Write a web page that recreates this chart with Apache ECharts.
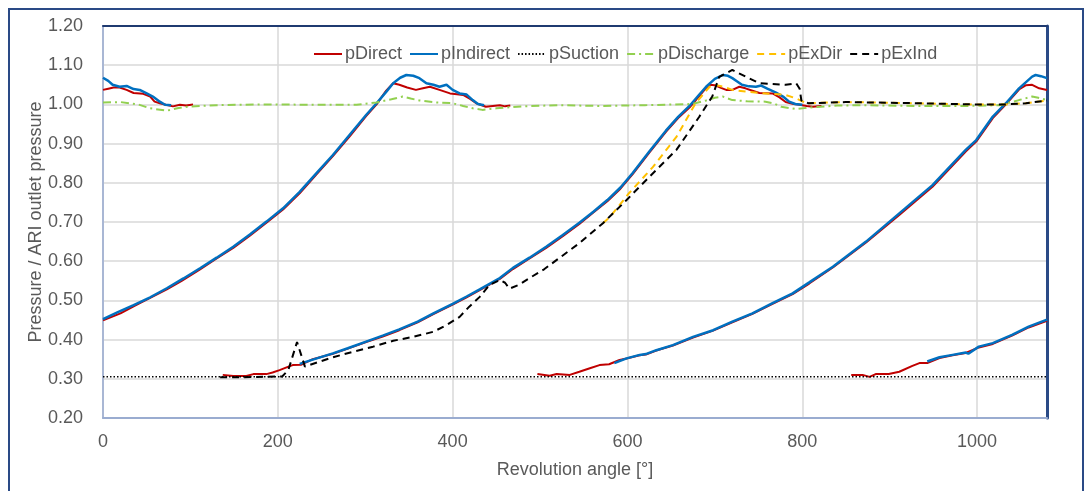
<!DOCTYPE html>
<html>
<head>
<meta charset="utf-8">
<script src="https://cdn.jsdelivr.net/npm/echarts@6/dist/echarts.min.js"></script>
<style>
html,body{margin:0;padding:0;background:#fff;}
#chart{width:1091px;height:491px;}
</style>
</head>
<body>
<div id="chart"></div>
<script>
// ---- data (angle in degrees, pressure ratio) ----
const seriesNames = ['pDirect', 'pIndirect', 'pSuction', 'pDischarge', 'pExDir', 'pExInd'];

const pDirect1 = [[0,1.037],[6,1.040],[12,1.043],[19,1.043],[27,1.037],[35,1.029],[46,1.027],[54,1.020],[59,1.007],[65,1.003],[72,0.999],[80,0.995],[88,0.999],[95,0.997],[103,1.000]];
const pDirect2 = [[0,0.449],[20,0.467],[35,0.485],[50,0.502],[73,0.528],[90,0.550],[111,0.579],[130,0.607],[149,0.634],[168,0.665],[187,0.698],[206,0.732],[225,0.773],[244,0.821],[263,0.868],[282,0.918],[301,0.970],[313,1.000],[324,1.035],[332,1.054],[339,1.050],[348,1.043],[358,1.037],[366,1.041],[374,1.045],[385,1.037],[397,1.028],[405,1.026],[412,1.024],[420,1.014],[427,1.003],[438,0.994],[446,0.996],[454,0.998],[460,0.995],[466,0.997]];
const pDirect3 = [[137,0.310],[149,0.307],[164,0.307],[172,0.312],[187,0.312],[194,0.316],[202,0.322],[210,0.329],[217,0.335],[227,0.336],[240,0.350],[263,0.364],[280,0.377],[301,0.394],[320,0.408],[339,0.424],[360,0.444],[378,0.465],[400,0.489],[416,0.508],[431,0.526],[454,0.555],[469,0.580],[488,0.607],[507,0.634],[526,0.664],[545,0.695],[561,0.724],[577,0.753],[592,0.785],[606,0.822],[625,0.877],[644,0.930],[658,0.965],[671,0.992],[681,1.018],[690,1.042],[694,1.050],[700,1.049],[707,1.042],[713,1.037],[720,1.037],[728,1.045],[735,1.041],[743,1.035],[751,1.029],[766,1.028],[774,1.018],[781,1.006],[790,1.001],[797,0.999],[805,0.996],[812,0.994],[822,0.996]];
const pDirect4 = [[497,0.312],[511,0.308],[519,0.312],[534,0.310],[545,0.318],[557,0.327],[568,0.335],[579,0.337],[591,0.348],[599,0.352],[614,0.360],[621,0.362],[633,0.372],[652,0.385],[675,0.405],[698,0.423],[720,0.444],[743,0.466],[766,0.491],[789,0.516],[808,0.543],[835,0.584],[873,0.648],[911,0.718],[949,0.790],[987,0.880],[999,0.905],[1018,0.965],[1033,1.000],[1048,1.038],[1056,1.049],[1063,1.050],[1071,1.041],[1080,1.037]];
const pDirect5 = [[856,0.310],[869,0.310],[877,0.305],[884,0.312],[899,0.312],[911,0.318],[926,0.333],[934,0.340],[943,0.340],[957,0.353],[972,0.360],[987,0.366],[1002,0.380],[1018,0.389],[1040,0.410],[1059,0.431],[1080,0.448]];

const pIndirect1 = [[0,1.068],[6,1.060],[11,1.050],[19,1.045],[27,1.047],[35,1.039],[42,1.037],[50,1.028],[57,1.020],[65,1.007],[71,0.999],[78,0.998]];
const pIndirect2 = [[0,0.452],[17,0.470],[35,0.488],[54,0.508],[73,0.531],[92,0.556],[111,0.582],[130,0.609],[149,0.637],[168,0.668],[187,0.701],[206,0.735],[225,0.777],[244,0.824],[263,0.871],[282,0.922],[301,0.973],[313,1.003],[324,1.032],[332,1.054],[340,1.068],[347,1.075],[355,1.073],[362,1.067],[370,1.054],[378,1.050],[385,1.045],[393,1.050],[400,1.037],[408,1.028],[416,1.025],[423,1.011],[429,1.001],[436,0.998]];
const pIndirect3 = [[225,0.338],[240,0.349],[263,0.365],[280,0.378],[301,0.395],[320,0.410],[339,0.426],[360,0.446],[378,0.467],[400,0.491],[416,0.510],[431,0.528],[454,0.557],[469,0.583],[488,0.609],[507,0.637],[526,0.667],[545,0.698],[561,0.726],[577,0.756],[592,0.788],[606,0.825],[625,0.880],[644,0.933],[658,0.968],[671,0.996],[681,1.022],[690,1.045],[700,1.065],[709,1.075],[715,1.073],[720,1.067],[726,1.058],[731,1.050],[739,1.046],[747,1.045],[753,1.048],[760,1.040],[770,1.030],[778,1.020],[785,1.007],[792,1.001],[800,0.999]];
const pIndirect4 = [[585,0.340],[599,0.352],[614,0.361],[621,0.363],[633,0.373],[652,0.386],[675,0.407],[698,0.424],[720,0.446],[743,0.467],[766,0.493],[789,0.518],[808,0.546],[835,0.586],[873,0.650],[911,0.722],[949,0.794],[987,0.884],[999,0.909],[1018,0.969],[1033,1.003],[1048,1.041],[1063,1.071],[1067,1.075],[1073,1.072],[1080,1.067]];
const pIndirect5 = [[943,0.344],[957,0.355],[972,0.361],[987,0.367],[990,0.364],[1002,0.382],[1018,0.391],[1040,0.412],[1059,0.433],[1080,0.451]];

const pSuction = [[0,0.305],[1080,0.305]];

const pDischarge = [[0,1.005],[20,1.006],[40,1.000],[54,0.990],[73,0.984],[85,0.990],[96,0.994],[130,0.998],[180,1.000],[250,0.999],[290,0.999],[313,1.005],[330,1.013],[343,1.020],[352,1.015],[362,1.010],[381,1.005],[400,1.003],[412,0.996],[423,0.990],[434,0.986],[450,0.990],[480,0.995],[520,0.998],[568,0.996],[620,0.998],[674,1.001],[690,1.010],[700,1.017],[709,1.020],[720,1.011],[737,1.008],[758,1.007],[768,1.002],[776,0.994],[793,0.988],[812,0.993],[840,0.997],[872,0.998],[930,0.996],[987,0.996],[1025,0.998],[1040,1.006],[1048,1.011],[1063,1.020],[1070,1.017],[1080,1.011]];

const pExDir = [[572,0.697],[580,0.713],[602,0.774],[629,0.840],[656,0.917],[678,1.003],[694,1.045],[700,1.050],[710,1.045],[720,1.037],[735,1.033],[751,1.029],[766,1.027],[781,1.024],[792,1.016],[797,1.011],[805,1.003],[850,1.006],[930,1.003],[995,1.000],[1033,1.000],[1056,1.003],[1080,1.010]];

const pExInd = [[134,0.304],[160,0.304],[185,0.305],[205,0.306],[212,0.322],[222,0.394],[231,0.331],[248,0.344],[263,0.355],[286,0.369],[309,0.382],[332,0.397],[355,0.407],[378,0.420],[393,0.437],[408,0.458],[419,0.484],[431,0.509],[442,0.539],[454,0.552],[460,0.545],[465,0.530],[476,0.540],[488,0.557],[505,0.580],[522,0.608],[545,0.646],[572,0.697],[599,0.756],[625,0.815],[656,0.884],[682,0.968],[697,1.020],[705,1.070],[720,1.088],[736,1.070],[751,1.054],[766,1.052],[781,1.050],[793,1.054],[797,1.040],[799,1.010],[807,1.003],[850,1.006],[930,1.003],[995,1.000],[1033,1.000],[1056,1.003],[1080,1.010]];

const xMin = 0, xMax = 1080, xStep = 200;
const yMin = 0.2, yMax = 1.2, yStep = 0.1;
const xTitle = 'Revolution angle [°]';
const yTitle = 'Pressure / ARI outlet pressure';

// join segments with a gap (null value breaks the line)
function joinSegments(segs) {
  const out = [];
  segs.forEach((s, i) => {
    if (i > 0) out.push([s[0][0], null]);
    s.forEach(p => out.push(p));
  });
  return out;
}

const FONT = 'Liberation Sans';
const TXT = '#595959';

const chart = echarts.init(document.getElementById('chart'), null, {renderer: 'canvas'});
chart.setOption({
  animation: false,
  backgroundColor: '#ffffff',
  textStyle: {fontFamily: FONT},
  graphic: [{
    type: 'rect', silent: true, z: -10,
    shape: {x: 9, y: 9, width: 1074, height: 520},
    style: {fill: 'none', stroke: '#2a4a86', lineWidth: 2}
  }],
  legend: {
    data: seriesNames,
    left: 308, top: 40,
    itemWidth: 28, itemHeight: 12, itemGap: 7,
    itemStyle: {opacity: 0, borderWidth: 0},
    textStyle: {color: TXT, fontSize: 18, fontFamily: FONT, padding: [0,0,0,-2]}
  },
  grid: {left: 103, right: 44, top: 26, bottom: 73, containLabel: false},
  xAxis: [{
    type: 'value', min: xMin, max: xMax, interval: xStep,
    name: xTitle, nameLocation: 'middle', nameGap: 43, nameMoveOverlap: false,
    nameTextStyle: {color: TXT, fontSize: 18, fontFamily: FONT},
    axisLine: {show: true, onZero: false, lineStyle: {color: '#9aacd0', width: 2}},
    axisTick: {show: false},
    axisLabel: {color: TXT, fontSize: 18, fontFamily: FONT, margin: 15, showMaxLabel: false, formatter: v => String(v)},
    splitLine: {show: true, lineStyle: {color: '#d9d9d9', width: 1.5}}
  }, {
    type: 'value', min: xMin, max: xMax, position: 'top',
    axisLine: {show: true, onZero: false, lineStyle: {color: '#1f3a70', width: 2}},
    axisTick: {show: false}, axisLabel: {show: false}, splitLine: {show: false}
  }],
  yAxis: [{
    type: 'value', min: yMin, max: yMax, interval: yStep,
    name: yTitle, nameLocation: 'middle', nameGap: 58, nameRotate: 90, nameMoveOverlap: false,
    nameTextStyle: {color: TXT, fontSize: 18, fontFamily: FONT},
    axisLine: {show: true, onZero: false, lineStyle: {color: '#a9b7d4', width: 2}},
    axisTick: {show: false},
    axisLabel: {color: TXT, fontSize: 18, fontFamily: FONT, margin: 20, formatter: v => v.toFixed(2)},
    splitLine: {show: true, lineStyle: {color: '#d9d9d9', width: 1.5}}
  }, {
    type: 'value', min: yMin, max: yMax, position: 'right',
    axisLine: {show: true, onZero: false, lineStyle: {color: '#2a4a86', width: 3}},
    axisTick: {show: false}, axisLabel: {show: false}, splitLine: {show: false}
  }],
  series: [
    {name: 'pDirect', type: 'line', symbol: 'none', connectNulls: false,
     data: joinSegments([pDirect1, pDirect2, pDirect3, pDirect4, pDirect5]),
     lineStyle: {color: '#c00000', width: 2}, itemStyle: {color: '#c00000'}},
    {name: 'pIndirect', type: 'line', symbol: 'none', connectNulls: false,
     data: joinSegments([pIndirect1, pIndirect2, pIndirect3, pIndirect4, pIndirect5]),
     lineStyle: {color: '#0070c0', width: 2.5}, itemStyle: {color: '#0070c0'}},
    {name: 'pSuction', type: 'line', symbol: 'none', data: pSuction,
     lineStyle: {color: '#000000', width: 1.5, type: [1.5, 2]}, itemStyle: {color: '#000000'}},
    {name: 'pDischarge', type: 'line', symbol: 'none', data: pDischarge,
     lineStyle: {color: '#92d050', width: 2, type: [8, 4, 2, 4]}, itemStyle: {color: '#92d050'}},
    {name: 'pExDir', type: 'line', symbol: 'none', data: pExDir,
     lineStyle: {color: '#ffc000', width: 2, type: [7, 5]}, itemStyle: {color: '#ffc000'}},
    {name: 'pExInd', type: 'line', symbol: 'none', data: pExInd,
     lineStyle: {color: '#000000', width: 2, type: [7, 5]}, itemStyle: {color: '#000000'}}
  ]
});
</script>
</body>
</html>
